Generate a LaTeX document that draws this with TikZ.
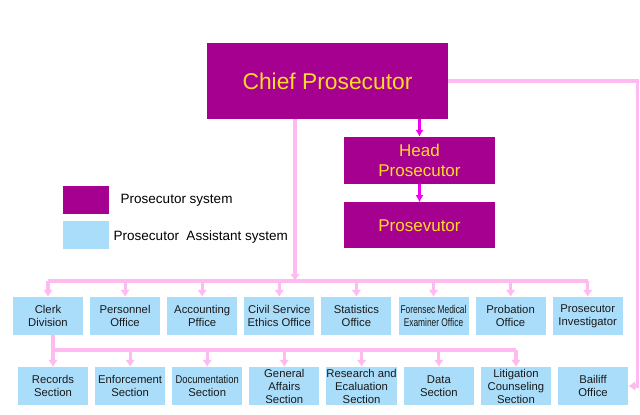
\documentclass[tikz,border=0pt]{standalone}
\usepackage{fontspec}
\setmainfont{Liberation Sans}
\usepackage{graphicx}
\usepackage{xcolor}
\usetikzlibrary{positioning,calc,arrows.meta}

\definecolor{prosmag}{RGB}{165,0,143}
\definecolor{prosyel}{RGB}{255,218,40}
\definecolor{asstblue}{RGB}{170,221,250}
\definecolor{linkpink}{RGB}{255,186,240}
\definecolor{arrowmag}{RGB}{240,0,235}

\begin{document}
\begin{tikzpicture}[x=1pt, y=-1pt,
    prosbox/.style={rectangle, fill=prosmag, text=prosyel, align=center, inner sep=1pt},
    asstbox/.style={rectangle, fill=asstblue, text=black!90, align=center, inner xsep=0pt, inner ysep=1pt,
        minimum width=70pt, minimum height=38pt, font=\fontsize{11.3}{13}\selectfont},
    legbox/.style={rectangle, minimum width=46pt, minimum height=28pt},
    link/.style={draw=linkpink, line width=3.2pt},
    linkarrow/.style={link, -{Latex[length=7pt,width=10pt]}},
    headarrow/.style={draw=arrowmag, line width=3pt, -{Latex[length=7pt,width=8pt]}}
]
    \useasboundingbox (0,0) rectangle (640,415);

    % prosecutor system
    \node[prosbox, minimum width=241pt, minimum height=76pt, font=\fontsize{22.8}{26}\selectfont] (chief) at (327.5,81) {Chief Prosecutor};
    \node[prosbox, minimum width=151pt, minimum height=47pt, font=\fontsize{17}{20}\selectfont] (head) at (419.5,160.5) {Head\\Prosecutor};
    \node[prosbox, minimum width=151pt, minimum height=46pt, font=\fontsize{17}{20}\selectfont, below=18pt of head] (pros) {Prosevutor};

    \draw[headarrow] (head.north |- chief.south) -- (head.north);
    \draw[headarrow] (head.south) -- (pros.north);

    % legend
    \node[legbox, fill=prosmag] (legmag) at (86,200) {};
    \node[right=8pt of legmag, font=\fontsize{13.5}{16}\selectfont] (legmagtext) {Prosecutor system};
    \node[legbox, fill=asstblue] (legblue) at (86,235) {};
    \node[right=1pt of legblue, yshift=-2pt, font=\fontsize{13.5}{16}\selectfont] (legbluetext) {Prosecutor\ \ Assistant system};

    % first row
    \node[asstbox] (clerk) at (48,316) {Clerk\\Division};
    \node[asstbox, right=6.7pt of clerk] (personnel) {Personnel\\Office};
    \node[asstbox, right=6.7pt of personnel] (accounting) {Accounting\\Pffice};
    \node[asstbox, right=6.7pt of accounting] (ethics) {Civil Service\\Ethics Office};
    \node[asstbox, right=6.7pt of ethics] (statistics) {Statistics\\Office};
    \node[asstbox, right=6.7pt of statistics] (forensic) {\scalebox{0.74}[1]{Forensec Medical}\\\scalebox{0.74}[1]{Examiner\ Office}};
    \node[asstbox, right=6.7pt of forensic] (probation) {Probation\\Office};
    \node[asstbox, right=6.7pt of probation] (investigator) {Prosecutor\\Investigator};

    % second row
    \node[asstbox] (records) at (53,386) {Records\\Section};
    \node[asstbox, right=6.7pt of records] (enforcement) {Enforcement\\Section};
    \node[asstbox, right=6.7pt of enforcement] (documentation) {\scalebox{0.83}[1]{Documentation}\\Section};
    \node[asstbox, right=6.7pt of documentation] (general) {General\\Affairs\\Section};
    \node[asstbox, right=6.7pt of general] (research) {Research and\\Ecaluation\\Section};
    \node[asstbox, right=6.7pt of research] (data) {Data\\Section};
    \node[asstbox, right=6.7pt of data] (litigation) {Litigation\\Counseling\\Section};
    \node[asstbox, right=6.7pt of litigation] (bailiff) {Bailiff\\Office};

    % buses
    \coordinate (bus) at (295,281);
    \coordinate (subbus) at (53,350);

    \draw[linkarrow] (chief.south -| bus) -- (bus);
    \draw[link] (clerk.north |- bus) -- (investigator.north |- bus);
    \foreach \n in {clerk,personnel,accounting,ethics,statistics,forensic,probation,investigator}
        \draw[linkarrow] (\n.north |- bus) -- (\n.north);

    \draw[link] (records.north |- clerk.south) -- (records.north |- subbus);
    \draw[link] (records.north |- subbus) -- (litigation.north |- subbus);
    \foreach \n in {records,enforcement,documentation,general,research,data,litigation}
        \draw[linkarrow] (\n.north |- subbus) -- (\n.north);

    \draw[linkarrow] (chief.east) -| ($(bailiff.east)+(9,0)$) -- (bailiff.east);
\end{tikzpicture}
\end{document}
